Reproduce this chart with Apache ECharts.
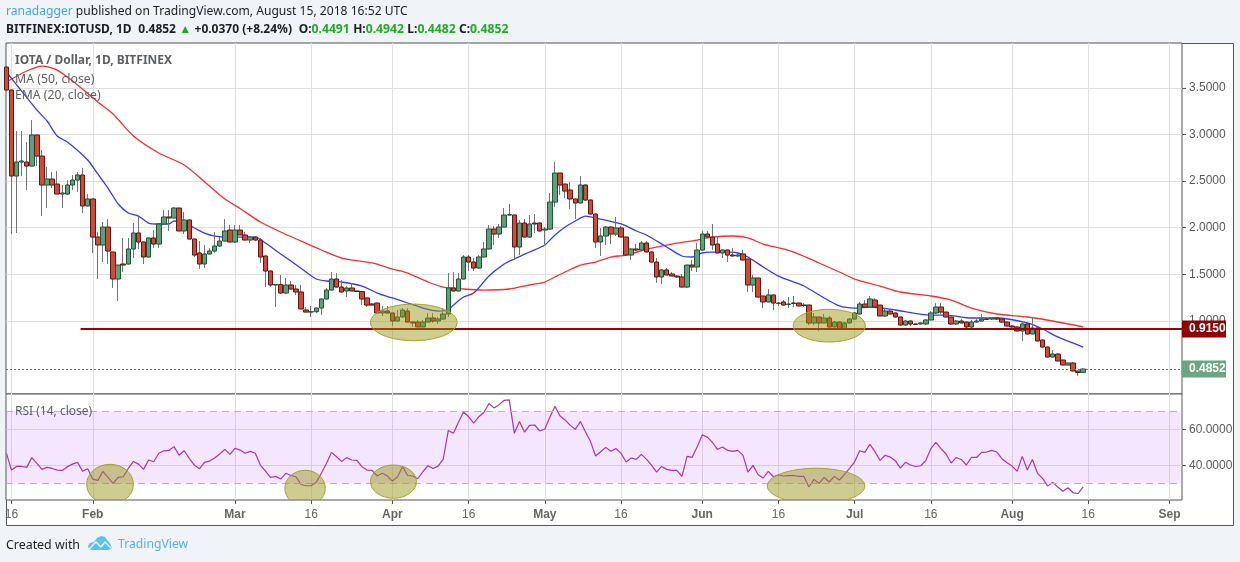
<!DOCTYPE html>
<html><head><meta charset="utf-8"><style>html,body{margin:0;padding:0;background:#f0f3f7}#c{width:1240px;height:562px}</style>
<script src="https://cdn.jsdelivr.net/npm/echarts@6/dist/echarts.min.js"></script></head><body><div id="c"></div>
<script>
const firstDay = Date.UTC(2018,0,15);
const msPerDay = 864e5;
const opens = [3.722,3.476,2.554,2.704,2.704,2.661,2.994,2.768,2.458,2.522,
2.468,2.361,2.361,2.458,2.511,2.565,2.233,2.308,1.900,1.815,
2.007,1.740,1.450,1.611,1.611,1.772,1.943,1.847,1.686,1.890,
1.825,2.040,2.115,2.104,2.211,1.965,2.083,1.879,1.729,1.611,
1.718,1.750,1.804,1.857,1.975,1.847,1.975,1.922,1.868,1.900,
1.868,1.697,1.536,1.386,1.392,1.300,1.386,1.343,1.311,1.118,
1.096,1.100,1.139,1.236,1.332,1.450,1.364,1.322,1.354,1.322,
1.316,1.247,1.182,1.193,1.086,1.107,1.086,1.000,1.043,1.107,
.989,.989,.936,.989,1.032,1.000,1.021,1.075,1.354,1.322,
1.450,1.686,1.632,1.568,1.686,1.772,1.986,1.932,2.007,2.136,
2.136,1.793,2.050,1.900,2.050,2.050,1.975,1.986,2.275,2.586,
2.468,2.404,2.308,2.265,2.458,2.297,2.147,1.847,1.911,2.007,
1.932,1.997,1.900,1.707,1.772,1.761,1.836,1.740,1.632,1.472,
1.547,1.504,1.482,1.472,1.364,1.600,1.579,1.761,1.932,1.900,
1.825,1.729,1.761,1.707,1.697,1.718,1.665,1.386,1.461,1.268,
1.204,1.279,1.188,1.204,1.177,1.193,1.193,1.171,1.171,.979,
1.043,.979,1.032,.936,.989,.914,.979,1.021,1.075,1.182,
1.150,1.225,1.171,1.054,1.107,1.086,1.043,.957,1.000,.968,
.968,.968,1.011,1.086,1.150,1.096,1.043,.968,1.000,.989,
.936,.989,1.000,1.021,1.021,1.032,1.021,.989,.946,.936,
.893,.968,.861,.925,.796,.721,.614,.646,.582,.528,
.550,.464,.4491];
const closes = [3.476,2.554,2.704,2.715,2.661,2.994,2.768,2.458,2.522,2.458,
2.361,2.372,2.458,2.511,2.565,2.233,2.308,1.900,1.815,2.007,
1.750,1.450,1.600,1.600,1.772,1.943,1.847,1.686,1.890,1.825,
2.040,2.115,2.104,2.211,1.965,2.083,1.879,1.707,1.611,1.718,
1.750,1.804,1.857,1.965,1.847,1.975,1.922,1.868,1.900,1.868,
1.686,1.536,1.386,1.392,1.300,1.386,1.343,1.311,1.129,1.096,
1.100,1.139,1.236,1.332,1.450,1.364,1.311,1.354,1.322,1.316,
1.236,1.171,1.171,1.086,1.107,1.086,1.000,1.043,1.118,.989,
.979,.936,.989,1.032,1.000,1.021,1.075,1.354,1.322,1.450,
1.686,1.632,1.568,1.686,1.772,1.986,1.932,2.007,2.136,2.140,
1.793,2.050,1.900,2.040,2.040,1.965,1.986,2.275,2.586,2.458,
2.393,2.308,2.265,2.458,2.297,2.147,1.847,1.911,2.007,1.932,
1.997,1.900,1.707,1.772,1.761,1.836,1.740,1.632,1.472,1.547,
1.493,1.482,1.472,1.364,1.600,1.579,1.761,1.932,1.900,1.815,
1.729,1.761,1.707,1.697,1.707,1.654,1.386,1.461,1.257,1.204,
1.279,1.193,1.193,1.171,1.182,1.188,1.161,1.166,.979,1.043,
.979,1.032,.936,.989,.914,.979,1.021,1.086,1.182,1.150,
1.236,1.150,1.054,1.107,1.075,1.043,.957,1.000,.968,.963,
.979,1.011,1.086,1.150,1.096,1.043,.968,1.000,.979,.936,
.989,1.000,1.021,1.016,1.032,1.021,.989,.946,.936,.893,
.968,.861,.925,.786,.721,.614,.646,.571,.528,.550,
.464,.4482,.4852];
const lows = [3.476,1.932,1.943,2.554,2.404,2.661,2.661,2.125,2.211,2.425,
2.361,2.211,2.350,2.404,2.383,2.158,2.233,1.729,1.450,1.632,
1.611,1.354,1.214,1.525,1.611,1.675,1.772,1.611,1.686,1.782,
1.782,2.029,1.965,2.104,1.965,1.932,1.879,1.686,1.557,1.568,
1.718,1.729,1.793,1.857,1.847,1.836,1.922,1.868,1.836,1.857,
1.622,1.364,1.364,1.150,1.289,1.289,1.343,1.279,1.129,1.096,
1.043,1.086,1.064,1.236,1.332,1.364,1.311,1.257,1.322,1.316,
1.171,1.150,1.171,1.086,1.054,1.086,.946,1.000,1.043,.989,
.936,.936,.936,.989,.979,.968,1.021,1.043,1.322,1.322,
1.450,1.536,1.536,1.557,1.686,1.772,1.815,1.890,2.007,2.136,
1.654,1.707,1.900,1.900,1.943,1.965,1.825,1.975,2.222,2.351,
2.318,2.200,2.093,2.265,2.286,2.147,1.782,1.697,1.815,1.825,
1.911,1.900,1.697,1.654,1.750,1.750,1.740,1.632,1.407,1.397,
1.493,1.482,1.461,1.364,1.354,1.536,1.525,1.761,1.900,1.761,
1.729,1.675,1.632,1.697,1.686,1.654,1.311,1.311,1.257,1.139,
1.204,1.118,1.161,1.171,1.139,1.150,1.161,1.150,.957,.957,
.893,.979,.936,.936,.914,.914,.979,1.021,1.075,1.150,
1.150,1.150,1.054,1.043,1.075,1.043,.957,.946,.946,.963,
.968,.957,1.011,1.075,1.075,1.043,.957,.957,.979,.925,
.914,.989,1.000,1.011,1.011,1.011,.979,.946,.925,.893,
.786,.861,.861,.786,.721,.614,.614,.571,.528,.528,
.464,.411,.4482];
const highs = [3.722,3.476,3.036,3.036,2.918,3.154,2.994,2.833,2.651,2.597,
2.608,2.458,2.511,2.565,2.597,2.640,2.361,2.308,1.954,2.061,
2.093,1.740,1.600,1.890,1.890,2.050,2.115,1.847,1.890,1.975,
2.050,2.190,2.190,2.222,2.211,2.168,2.083,1.879,1.857,1.815,
1.782,1.954,1.900,2.093,2.029,2.029,2.029,1.954,1.911,1.911,
1.890,1.697,1.547,1.392,1.493,1.461,1.429,1.386,1.386,1.150,
1.161,1.139,1.236,1.354,1.525,1.514,1.439,1.375,1.407,1.322,
1.316,1.247,1.193,1.193,1.161,1.161,1.086,1.118,1.139,1.139,
.989,1.011,1.011,1.086,1.086,1.043,1.139,1.514,1.525,1.514,
1.707,1.707,1.675,1.707,1.847,2.029,2.018,2.040,2.211,2.254,
2.136,2.083,2.093,2.136,2.147,2.061,2.007,2.372,2.704,2.586,
2.468,2.490,2.308,2.554,2.458,2.297,2.147,1.997,2.018,2.018,
2.115,2.018,1.900,1.782,1.825,1.857,1.857,1.740,1.675,1.557,
1.568,1.525,1.493,1.504,1.600,1.654,1.836,1.965,1.965,2.040,
1.900,1.772,1.761,1.782,1.740,1.761,1.665,1.493,1.461,1.268,
1.343,1.279,1.204,1.225,1.257,1.268,1.193,1.193,1.171,1.086,
1.043,1.075,1.054,1.000,.989,.989,1.032,1.096,1.204,1.225,
1.268,1.247,1.171,1.139,1.118,1.086,1.043,1.011,1.000,.968,
.979,1.021,1.107,1.193,1.193,1.096,1.043,1.011,1.021,.989,
1.011,1.021,1.075,1.043,1.043,1.043,1.021,.989,.957,.946,
.979,.968,1.043,.925,.796,.721,.689,.657,.582,.550,
.561,.464,.4942];
const emaDays = [0,3,6,8,10,12,16,18,20,22,24,26,28,30,32,33,35,37,39,41,44,47,49,51,54,56,59,61,63,66,70,73,76,79,82,85,87,88,90,92,95,98,100,103,106,108,110,112,114,116,121,124,126,130,133,135,137,141,144,146,149,152,157,161,164,167,170,175,182,185,190,195,201,204,207,212];
const emaValues = [3.669,3.465,3.261,3.144,2.983,2.918,2.726,2.576,2.425,2.254,2.158,2.125,2.050,2.040,2.040,2.072,2.050,1.997,1.943,1.911,1.900,1.900,1.900,1.836,1.718,1.643,1.525,1.450,1.429,1.418,1.375,1.300,1.247,1.193,1.139,1.107,1.118,1.171,1.257,1.300,1.482,1.611,1.665,1.740,1.815,1.922,2.007,2.072,2.125,2.104,2.040,1.965,1.922,1.793,1.697,1.686,1.729,1.740,1.729,1.686,1.579,1.482,1.375,1.247,1.161,1.139,1.150,1.118,1.064,1.064,1.032,1.032,.979,.914,.829,.721];
const maDays = [0,4,7,10,14,18,21,25,30,35,40,43,46,50,54,58,62,66,72,76,79,83,86,90,94,99,103,106,108,110,113,116,119,122,127,131,136,139,143,146,149,153,156,160,164,167,172,176,182,186,190,195,201,206,212];
const maValues = [3.562,3.680,3.733,3.690,3.530,3.347,3.219,2.983,2.801,2.672,2.447,2.308,2.206,2.061,1.954,1.857,1.761,1.675,1.622,1.557,1.514,1.418,1.364,1.343,1.332,1.343,1.386,1.418,1.472,1.525,1.600,1.632,1.686,1.707,1.782,1.825,1.868,1.900,1.911,1.890,1.825,1.772,1.718,1.622,1.525,1.450,1.375,1.311,1.268,1.225,1.139,1.075,1.043,1.000,.936];
const rsi = [46.7,37.4,39.4,39.4,38.9,44.3,41.1,37.8,38.9,38.3,
37.4,37.2,39.3,40.7,41.7,36.7,38.1,32.4,31.7,36.7,
33.3,30.0,33.3,33.7,38.3,42.2,40.7,37.8,43.0,42.0,
46.7,48.1,48.3,50.4,45.6,48.1,43.9,40.2,38.1,41.7,
42.4,44.1,46.3,48.9,46.1,49.4,48.5,46.7,47.8,46.7,
40.2,36.8,33.3,33.9,32.4,35.6,34.4,33.7,29.4,28.7,
28.7,30.6,35.6,41.1,47.2,44.8,42.2,44.3,43.0,42.8,
39.3,37.4,37.2,34.1,35.6,34.1,31.3,33.7,39.3,34.4,
34.1,32.6,36.5,39.8,38.3,39.6,43.5,59.4,57.8,63.9,
69.6,67.0,63.5,67.0,69.3,74.3,71.9,73.7,76.1,76.3,
57.8,64.3,58.5,62.2,62.4,59.1,60.2,66.7,72.8,67.4,
65.2,62.2,60.0,64.3,58.7,53.2,45.2,47.6,50.0,47.8,
49.4,46.7,41.9,44.1,43.3,46.1,43.5,40.2,36.3,39.4,
37.8,37.2,37.2,33.9,45.0,44.4,50.4,56.9,55.7,52.8,
48.9,50.2,48.3,47.8,48.3,45.7,36.3,40.0,34.8,33.0,
36.7,33.7,34.8,34.1,34.3,34.4,33.9,33.9,28.0,32.2,
30.0,33.3,30.8,33.9,31.9,35.0,38.3,42.0,48.1,47.2,
51.7,47.6,42.8,45.6,44.6,42.6,38.5,41.7,40.2,39.4,
39.8,42.6,49.3,52.8,49.3,46.3,41.3,44.4,43.3,40.2,
44.4,44.4,47.2,47.4,48.3,47.4,43.7,41.5,39.6,36.7,
45.0,37.4,43.3,35.6,32.8,28.5,30.6,28.0,25.7,27.6,
24.8,24.4,28.1];
const xTickDates = ['2018-01-16','2018-02-01','2018-03-01','2018-03-16','2018-04-01','2018-04-16','2018-05-01','2018-05-16','2018-06-01','2018-06-16','2018-07-01','2018-07-16','2018-08-01','2018-08-16','2018-09-01'];
const monthNames = ['Jan','Feb','Mar','Apr','May','Jun','Jul','Aug','Sep'];
const priceTicks = [1,1.5,2,2.5,3,3.5];
const rsiTicks = [40,60];
const supportLevel = 0.9150, lastPrice = 0.4852;
const supportStartDay = 14.6;
// annotations: centre day index, centre value, x radius in days, y radius in value
const priceEllipses = [[80.2,0.985,8.53,0.196],[162,0.950,7.1,0.175]];
const rsiEllipses = [[20.4,29.5,4.6,11.1],[58.8,27.3,3.98,10],[76.2,31,4.53,9.2],[159.4,28.6,9.6,9.8]];

const wicks = opens.map((o,i)=>[i,o,closes[i],lows[i],highs[i]]);
const bodies = opens.map((o,i)=>[i,o,closes[i],Math.min(o,closes[i]),Math.max(o,closes[i])]);
const xMin = -0.083, xMax = 231.45;
const xTicks = xTickDates.map(s=>(Date.parse(s+'T00:00:00Z')-firstDay)/msPerDay);
const txt = '#5d6066', sans = '"Noto Sans","Open Sans",sans-serif', arial='"Liberation Sans",Arial,sans-serif';
const ell = (api)=>{const c=api.coord([api.value(0),api.value(1)]);const s=api.size([api.value(2),api.value(3)]);
  return {type:'ellipse',shape:{cx:c[0],cy:c[1],rx:s[0],ry:s[1]},style:{fill:'rgba(150,150,20,0.48)',stroke:'#a8a228',lineWidth:1}};};
const xAxisBase = i => ({type:'value',gridIndex:i,min:xMin,max:xMax,scale:true,
  axisLine:{show:false,onZero:false},splitLine:{show:true,lineStyle:{color:'#e0e0e0',width:1}},
  axisTick:{show:i===1,customValues:xTicks,length:4,lineStyle:{color:'#555'}},
  axisLabel:{show:i===1,customValues:xTicks,margin:9,hideOverlap:false,
    formatter:v=>{const d=new Date(firstDay+v*msPerDay);return d.getUTCDate()===1?'{m|'+monthNames[d.getUTCMonth()]+'}':'{d|'+d.getUTCDate()+'}';},
    rich:{m:{fontFamily:arial,fontSize:12,fontWeight:'bold',color:'#666'},d:{fontFamily:arial,fontSize:12,color:'#666'}}}});
const yAxisBase = (i,min,max,ticks)=>({type:'value',gridIndex:i,position:'right',min,max,scale:true,
  axisLine:{show:false,onZero:false},splitLine:{show:true,lineStyle:{color:'#e0e0e0',width:1}},
  axisTick:{show:true,customValues:ticks,length:4,lineStyle:{color:'#555'}},
  axisLabel:{customValues:ticks,margin:7,formatter:v=>v.toFixed(4),fontFamily:arial,fontSize:12,color:'#5a5a5a'}});
const tag = (bg)=>({show:true,position:'end',distance:0,formatter:p=>p.value!==undefined?Number(p.value).toFixed(4):'',
  backgroundColor:bg,color:'#fff',fontFamily:arial,fontSize:12,fontWeight:'bold',padding:[3,5,2,7],lineHeight:12,width:32});

const option = {
  animation:false,useUTC:true,backgroundColor:'#f0f3f7',
  title:[
    {left:6,top:6,padding:0,text:'{u|ranadagger} published on TradingView.com, August 15, 2018 16:52 UTC',
      textStyle:{fontFamily:sans,fontSize:12.1,fontWeight:'normal',color:'#1c1e22',rich:{u:{fontFamily:sans,fontSize:12.1,color:'#3fa9dd'}}}},
    {left:6,top:24,padding:0,text:'{b|BITFINEX:IOTUSD, 1D}  {n|0.4852} {g|▲} {n|+0.0370 (+8.24%)}  {b|O:}{v|0.4491} {b|H:}{v|0.4942} {b|L:}{v|0.4482} {b|C:}{v|0.4852}',
      textStyle:{fontSize:12,rich:{b:{fontFamily:sans,fontSize:12,fontWeight:'bold',color:'#1c1e22'},n:{fontFamily:sans,fontSize:12,color:'#1c1e22'},g:{fontFamily:sans,fontSize:12,color:'#22ab22'},v:{fontFamily:sans,fontSize:12.2,color:'#22ab22'}}}},
    {left:15,top:55,padding:0,text:'IOTA / Dollar, 1D, BITFINEX',textStyle:{fontFamily:sans,fontSize:12,fontWeight:'bold',color:txt}},
    {left:15,top:73,padding:0,text:'MA (50, close)',textStyle:{fontFamily:sans,fontSize:12.3,fontWeight:'normal',color:txt}},
    {left:15,top:90,padding:0,text:'EMA (20, close)',textStyle:{fontFamily:sans,fontSize:12.2,fontWeight:'normal',color:txt}},
    {left:15,top:406,padding:0,text:'RSI (14, close)',textStyle:{fontFamily:sans,fontSize:12,fontWeight:'normal',color:txt}},
    {left:6,top:539,padding:0,text:'Created with',textStyle:{fontFamily:sans,fontSize:12.4,fontWeight:'normal',color:'#1c1e22'}},
    {left:118,top:539,padding:0,text:'TradingView',textStyle:{fontFamily:sans,fontSize:12.2,fontWeight:'normal',color:'#4fb4e4'}}
  ],
  graphic:[
    {type:'rect',z:-5,silent:true,shape:{x:6.5,y:43.5,width:1227,height:482},style:{fill:'#fff',stroke:'#555',lineWidth:1}},
    {type:'polygon',silent:true,shape:{points:[[88,546],[90,543],[94,542],[97,538],[101,536],[105,537],[107,540],[109,542],[111,545],[111.5,548],[109,550],[92,550],[89,549]]},style:{fill:'#5ac1ec'}},
    {type:'polyline',silent:true,shape:{points:[[89,549],[96,542],[101,547],[105,542],[111,548]]},style:{stroke:'#f0f3f7',fill:'none',lineWidth:1.5}}
  ],
  grid:[
    {left:6,top:43,width:1176,height:351,show:true,backgroundColor:'#fff',borderColor:'#555',borderWidth:1},
    {left:6,top:394,width:1176,height:106,show:true,backgroundColor:'#fff',borderColor:'#555',borderWidth:1}
  ],
  xAxis:[xAxisBase(0),xAxisBase(1)],
  yAxis:[yAxisBase(0,0.2176,3.98,priceTicks),yAxisBase(1,20.8,79.6,rsiTicks)],
  series:[
    {type:'line',name:'MA 50',xAxisIndex:0,yAxisIndex:0,z:2,showSymbol:false,smooth:0.25,data:maDays.map((d,i)=>[d,maValues[i]]),lineStyle:{color:'#fa2c2c',width:1.3}},
    {type:'line',name:'EMA 20',xAxisIndex:0,yAxisIndex:0,z:2,showSymbol:false,smooth:0.25,data:emaDays.map((d,i)=>[d,emaValues[i]]),lineStyle:{color:'#2d3cff',width:1.3}},
    {type:'candlestick',name:'wicks',xAxisIndex:0,yAxisIndex:0,z:3,barWidth:2,clip:true,data:wicks,encode:{x:0,y:[1,2,3,4]},
      itemStyle:{color:'transparent',color0:'transparent',borderColor:'#737375',borderColor0:'#737375',borderColorDoji:'#737375',borderWidth:1}},
    {type:'candlestick',name:'IOTUSD',xAxisIndex:0,yAxisIndex:0,z:4,barWidth:5,clip:true,data:bodies,encode:{x:0,y:[1,2,3,4]},
      itemStyle:{color:'#5f9f7c',color0:'#d04a38',borderColor:'#225437',borderColor0:'#5b1a13',borderColorDoji:'#225437',borderWidth:1}},
    {type:'line',name:'support',xAxisIndex:0,yAxisIndex:0,z:4,showSymbol:false,data:[],
      markLine:{silent:true,symbol:'none',animation:false,lineStyle:{color:'#99000a',width:2,type:'solid',opacity:1},label:tag('#8f0000'),
        data:[[{coord:[supportStartDay,supportLevel],value:supportLevel},{coord:[xMax,supportLevel],value:supportLevel}]]}},
    {type:'line',name:'last',xAxisIndex:0,yAxisIndex:0,z:4,showSymbol:false,data:[],
      markLine:{silent:true,symbol:'none',animation:false,lineStyle:{color:'#2f9a63',width:1,type:[2,2],opacity:1},label:tag('#6ba583'),
        data:[[{coord:[xMin,lastPrice],value:lastPrice},{coord:[xMax,lastPrice],value:lastPrice}]]}},
    {type:'custom',name:'price zones',xAxisIndex:0,yAxisIndex:0,z:5,clip:true,silent:true,encode:{x:0,y:1},renderItem:(p,api)=>ell(api),
      data:priceEllipses},
    {type:'line',name:'RSI',xAxisIndex:1,yAxisIndex:1,z:3,showSymbol:false,data:rsi.map((v,i)=>[i,v]),lineStyle:{color:'#a535b9',width:1.2},
      markArea:{silent:true,itemStyle:{color:'rgba(160,60,245,0.13)'},data:[[{coord:[xMin,70]},{coord:[xMax-0.3,30]}]]},
      markLine:{silent:true,symbol:'none',animation:false,label:{show:false},lineStyle:{color:'#bfaec6',width:1,type:[7,5],opacity:1},
        data:[[{coord:[xMin,70]},{coord:[xMax-0.3,70]}],[{coord:[xMin,30]},{coord:[xMax-0.3,30]}]]}},
    {type:'custom',name:'rsi zones',xAxisIndex:1,yAxisIndex:1,z:5,clip:true,silent:true,encode:{x:0,y:1},renderItem:(p,api)=>ell(api),
      data:rsiEllipses}
  ]
};
const chart = echarts.init(document.getElementById('c'),null,{renderer:'canvas',width:1240,height:562});
chart.setOption(option);
</script></body></html>
